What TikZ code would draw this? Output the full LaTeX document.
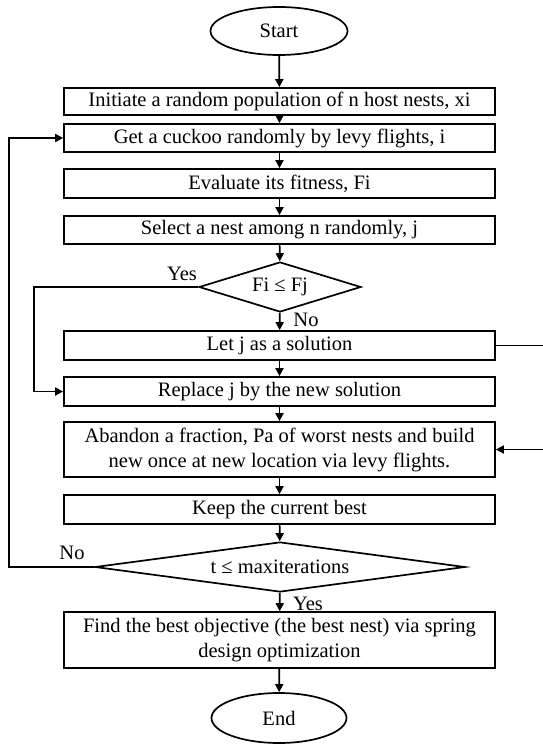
\documentclass[tikz,border=0pt]{standalone}
\usepackage{fontspec}
\setmainfont{Liberation Serif}
\usetikzlibrary{arrows.meta, positioning, shapes.geometric}

\tikzset{
  flowline/.style={line width=1.7pt, -{Triangle[length=8pt,width=8pt]}},
  plainline/.style={line width=1.7pt},
  procbox/.style={draw, line width=1.7pt, minimum width=431pt, minimum height=28pt,
    inner sep=0pt, align=center},
  termnode/.style={draw, ellipse, line width=1.7pt, minimum width=137pt, minimum height=48pt,
    inner sep=0pt},
  testnode/.style={draw, diamond, line width=1.7pt, inner sep=0pt},
  branchlabel/.style={inner sep=0pt}
}

\begin{document}
\begin{tikzpicture}[x=1pt, y=-1pt, font=\fontsize{20.5}{25}\selectfont]
  \useasboundingbox (0,0) rectangle (543,744);

  % --- terminals and steps ---
  \node[termnode] (start) at (279, 31) {Start};
  \node[procbox, minimum height=27pt] (init) at (279.5, 101.5) {Initiate a random population of n host nests, xi};
  \node[procbox] (cuckoo) at (279.5, 138) {Get a cuckoo randomly by levy flights, i};
  \node[procbox, minimum height=29pt] (fitness) at (279.5, 183.5) {Evaluate its fitness, Fi};
  \node[procbox] (select) at (279.5, 230) {Select a nest among n randomly, j};
  \node[testnode, minimum width=162pt, minimum height=50pt, aspect=3.2] (cmp) at (280, 287) {Fi ≤ Fj};
  \node[procbox, minimum height=29pt] (letj) at (279.5, 345.5) {Let j as a solution};
  \node[procbox, minimum height=29pt] (replace) at (279.5, 391.5) {Replace j by the new solution};
  \node[procbox, minimum height=55pt] (abandon) at (279.5, 449.5)
    {Abandon a fraction, Pa of worst nests and build\\new once at new location via levy flights.};
  \node[procbox, minimum height=29pt] (keep) at (279.5, 509.5) {Keep the current best};
  \node[testnode, minimum width=370pt, minimum height=50pt, aspect=7.4] (iter) at (280, 567) {t ≤ maxiterations};
  \node[procbox, minimum height=56pt] (best) at (279.5, 640)
    {Find the best objective (the best nest) via spring\\design optimization};
  \node[termnode, minimum width=135pt, minimum height=50pt] (end) at (279, 718) {End};

  % --- main flow ---
  \draw[flowline] (start) -- (init);
  \draw[flowline] (init) -- (cuckoo);
  \draw[flowline] (cuckoo) -- (fitness);
  \draw[flowline] (fitness) -- (select);
  \draw[flowline] (select) -- (cmp);
  \draw[flowline] (cmp) -- (letj);
  \draw[flowline] (letj) -- (replace);
  \draw[flowline] (replace) -- (abandon);
  \draw[flowline] (abandon) -- (keep);
  \draw[flowline] (keep) -- (iter);
  \draw[flowline] (iter) -- (best);
  \draw[flowline] (best) -- (end);

  % --- branches ---
  \draw[flowline] (cmp.west) -- (34, 287) |- (replace.west);
  \draw[flowline] (iter.west) -- (9, 567) |- (cuckoo.west);
  \coordinate (rightA) at (543, 345.5);
  \coordinate (rightB) at (543, 449.5);
  \draw[plainline] (letj.east) -- (rightA);
  \draw[flowline] (rightB) -- (abandon.east);

  \node[branchlabel] (yes1) at (182, 274) {Yes};
  \node[branchlabel] (no1) at (306, 320) {No};
  \node[branchlabel] (no2) at (72, 553) {No};
  \node[branchlabel] (yes2) at (308, 604) {Yes};
\end{tikzpicture}
\end{document}
